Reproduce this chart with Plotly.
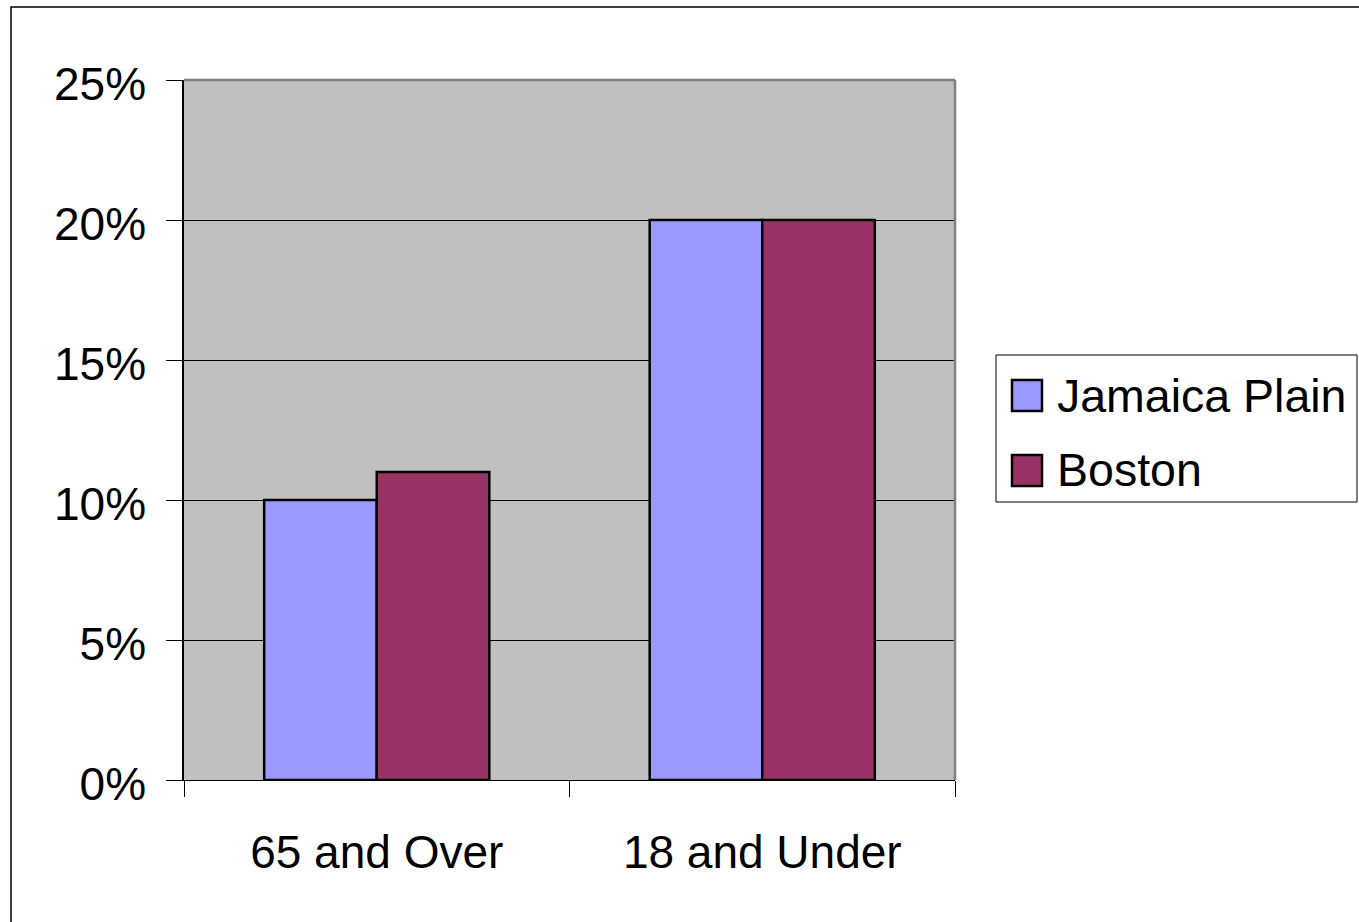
import plotly.graph_objects as go

# Age-group shares for Jamaica Plain vs. Boston
categories = ["65 and Over", "18 and Under"]
jamaica_plain = [0.10, 0.20]
boston = [0.11, 0.20]
series_names = ["Jamaica Plain", "Boston"]
series_colors = ["#9999FF", "#993366"]

FONT = "Liberation Sans, Arial, sans-serif"

fig = go.Figure()
for name, vals, color in zip(series_names, [jamaica_plain, boston], series_colors):
    fig.add_trace(go.Bar(
        x=categories, y=vals, name=name,
        marker=dict(color=color, line=dict(color="black", width=2.5)),
        showlegend=False,
    ))

shapes = [
    # outer chart frame
    dict(type="rect", xref="paper", yref="paper",
         x0=(11 - 184) / 771, x1=(1370 - 184) / 771,
         y0=(780 - 930) / 700, y1=(780 - 7) / 700,
         line=dict(color="black", width=1.5), layer="below"),
    # plot-area border (top/right in gray)
    dict(type="line", xref="paper", yref="paper", x0=0, x1=1, y0=1, y1=1,
         line=dict(color="#808080", width=2.5)),
    dict(type="line", xref="paper", yref="paper", x0=1, x1=1, y0=0, y1=1,
         line=dict(color="#808080", width=2.5)),
    # legend box
    dict(type="rect", xref="paper", yref="paper",
         x0=(996 - 184) / 771, x1=(1357 - 184) / 771,
         y0=(780 - 502) / 700, y1=(780 - 355) / 700,
         line=dict(color="black", width=1), fillcolor="white"),
]
annotations = []
legend_rows = [(380, 411, 396), (455, 486, 470)]
for (top, bot, mid), name, color in zip(legend_rows, series_names, series_colors):
    shapes.append(dict(type="rect", xref="paper", yref="paper",
                       x0=(1012 - 184) / 771, x1=(1042 - 184) / 771,
                       y0=(780 - bot) / 700, y1=(780 - top) / 700,
                       line=dict(color="black", width=2.5), fillcolor=color))
    annotations.append(dict(xref="paper", yref="paper",
                            x=(1055 - 184) / 771, y=(780 - mid) / 700,
                            xanchor="left", yanchor="middle", showarrow=False,
                            text=name, font=dict(family=FONT, size=46.5, color="black")))

fig.update_layout(
    width=1359, height=922,
    margin=dict(l=184, r=404, t=80, b=142),
    paper_bgcolor="white", plot_bgcolor="#C0C0C0",
    barmode="group", bargap=0.416, bargroupgap=0,
    font=dict(family=FONT, size=46, color="black"),
    shapes=shapes, annotations=annotations,
    showlegend=False,
)
fig.update_xaxes(
    type="category", tickson="boundaries", ticks="outside", ticklen=16,
    tickcolor="black", tickwidth=1,
    showline=True, linecolor="black", linewidth=1,
    showgrid=False, tickfont=dict(size=46), ticklabelstandoff=32,
)
fig.update_yaxes(
    range=[0, 0.25], dtick=0.05, tickformat=".0%",
    ticks="outside", ticklen=16, tickcolor="black", tickwidth=1,
    showline=True, linecolor="black", linewidth=1.5,
    showgrid=True, gridcolor="black", gridwidth=1,
    zeroline=False, tickfont=dict(size=46), ticklabelstandoff=11,
    ticklabelshift=4,
)

fig.write_html("out.html")
